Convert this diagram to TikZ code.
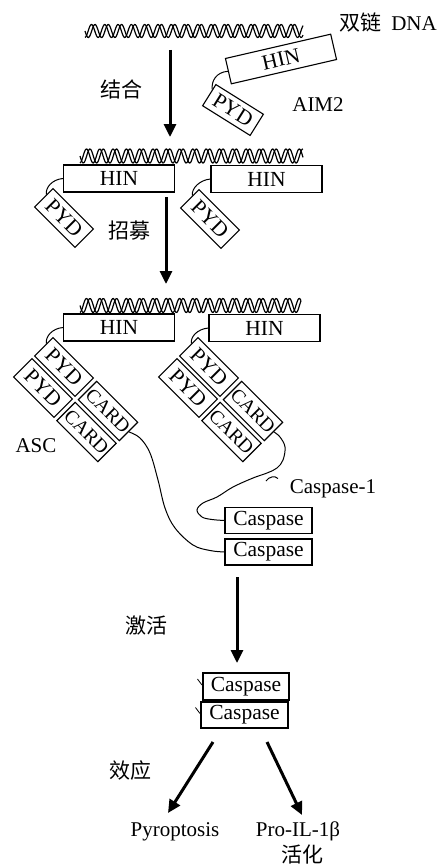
\documentclass[tikz,border=0pt]{standalone}
\usepackage{fontspec}
\setmainfont{Liberation Serif}
\newfontfamily\cjk{Noto Sans CJK SC}
\usetikzlibrary{arrows.meta,calc}
\newcommand\dnahelix[4]{%
  \draw[helixline] plot[domain=#1:#2, samples=300] (\x, {#3 + #4*sin((\x-#1)/13.3*360)});
  \draw[helixline] plot[domain=#1:#2, samples=300] (\x, {#3 + #4*sin((\x-#1)/13.3*360 + 95)});
}
\begin{document}
\begin{tikzpicture}[x=1pt,y=-1pt,
  box/.style={draw, line width=1.1pt, inner sep=0pt, font=\fontsize{21.5}{23}\selectfont},
  cardbox/.style={box, font=\fontsize{19.5}{21}\selectfont, minimum width=58, minimum height=26, rotate=-45},
  pydbox/.style={box, minimum width=57, minimum height=26, rotate=-45},
  hinbox/.style={box, minimum width=111, minimum height=27},
  caspbox/.style={box, minimum width=87, minimum height=26},
  lbl/.style={inner sep=0pt, font=\fontsize{21}{23}\selectfont},
  clbl/.style={inner sep=0pt, font=\cjk\fontsize{21}{23}\selectfont},
  bigarrow/.style={line width=3pt, -{Triangle[width=12pt,length=13pt]}},
  link/.style={line width=1pt},
  helixline/.style={line width=1.2pt}]
\useasboundingbox (0,0) rectangle (439,867);

% ---- stage 1
\dnahelix{85}{303}{31}{6.5}
\node[lbl] (dsdna) at (388,23) {{\cjk 双链}\hspace{10pt}DNA};
\node[box, minimum width=108, minimum height=26, rotate=13] (hin0) at (281,59) {HIN};
\node[box, minimum width=56, minimum height=25, rotate=-32] (pyd0) at (233,110) {PYD};
\draw[link] (hin0.west) .. controls +(-12,1) and +(-1,-8) .. ($(pyd0.north west)!0.25!(pyd0.south west)$);
\node[lbl] (aim2) at (318,105) {AIM2};
\node[clbl] (bind) at (121,89) {结合};
\coordinate (a1s) at (170,50);
\coordinate (a1e) at (170,137);
\draw[bigarrow] (a1s) -- (a1e);

% ---- stage 2
\dnahelix{80}{303}{156}{7}
\node[hinbox] (hin1) at (119,178.5) {HIN};
\node[hinbox] (hin2) at (266.5,179) {HIN};
\node[pydbox] (pyd1) at (64,218) {PYD};
\node[pydbox] (pyd2) at (210,219) {PYD};
\draw[link] (hin1.west) .. controls +(-11,1) and +(-1,-7) .. ($(pyd1.north west)!0.35!(pyd1.south west)$);
\draw[link] (hin2.west) .. controls +(-11,1) and +(-1,-7) .. ($(pyd2.north west)!0.35!(pyd2.south west)$);
\node[clbl] (recruit) at (129,231) {招募};
\coordinate (a2s) at (166,197);
\coordinate (a2e) at (166,284);
\draw[bigarrow] (a2s) -- (a2e);

% ---- stage 3
\dnahelix{80}{301}{305.5}{7}
\node[hinbox] (hin3) at (119,327.5) {HIN};
\node[hinbox] (hin4) at (264.5,328) {HIN};
\node[pydbox] (pa1) at (64,367) {PYD};
\node[pydbox] (pa2) at (43,388) {PYD};
\node[cardbox] (ca1) at (108,411) {CARD};
\node[cardbox] (ca2) at (86.5,432) {CARD};
\node[pydbox] (pb1) at (209,367) {PYD};
\node[pydbox] (pb2) at (188,388) {PYD};
\node[cardbox] (cb1) at (253,411) {CARD};
\node[cardbox] (cb2) at (231.5,432) {CARD};
\draw[link] (hin3.west) .. controls +(-11,1) and +(-1,-7) .. ($(pa1.north west)!0.35!(pa1.south west)$);
\draw[link] (hin4.west) .. controls +(-11,1) and +(-1,-7) .. ($(pb1.north west)!0.35!(pb1.south west)$);
\node[lbl] (asc) at (36,446) {ASC};

\node[caspbox] (casp1) at (268.5,520.5) {Caspase};
\node[caspbox] (casp2) at (268.5,552) {Caspase};
\node[lbl] (c1lbl) at (333,489) {Caspase-1};
\draw[link] plot[smooth, tension=0.6] coordinates {(ca1.east) (140,438) (150,453) (158,480) (165,508) (175,528) (193,545) (210,550.5) (casp2.west)};
\draw[link] plot[smooth, tension=0.6] coordinates {(cb1.east) (280,437) (285,447) (283,460) (277,468) (267,473) (253,478) (233,487) (217,497) (203,503) (197,510) (202,517) (212,519.5) (casp1.west)};
\draw[link] (266,481) .. controls (269,476.5) and (275,475.5) .. (278,478.5);

% ---- activation
\node[clbl] (activ) at (146,626) {激活};
\coordinate (a3s) at (237,577);
\coordinate (a3e) at (237,663);
\draw[bigarrow] (a3s) -- (a3e);
\node[box, minimum width=86, minimum height=27] (casp3) at (246,686.5) {Caspase};
\node[caspbox] (casp4) at (244.5,715) {Caspase};
\draw[line width=0.8pt] ($(casp3.west)+(-5,-7.5)$) -- ($(casp3.west)+(-0.5,-1.5)$);
\draw[line width=0.8pt] ($(casp4.west)+(-5,-7.5)$) -- ($(casp4.west)+(-0.5,-1.5)$);

% ---- effect
\node[clbl] (effect) at (130,770) {效应};
\coordinate (a4s) at (213,742);
\coordinate (a4e) at (168,813);
\coordinate (a5s) at (267,742);
\coordinate (a5e) at (302,815);
\draw[bigarrow] (a4s) -- (a4e);
\draw[bigarrow] (a5s) -- (a5e);
\node[lbl] (pyro) at (175,832) {Pyroptosis};
\node[lbl] (proil) at (298,831) {Pro-IL-1β};
\node[clbl] (act2) at (302,855) {活化};
\end{tikzpicture}
\end{document}
